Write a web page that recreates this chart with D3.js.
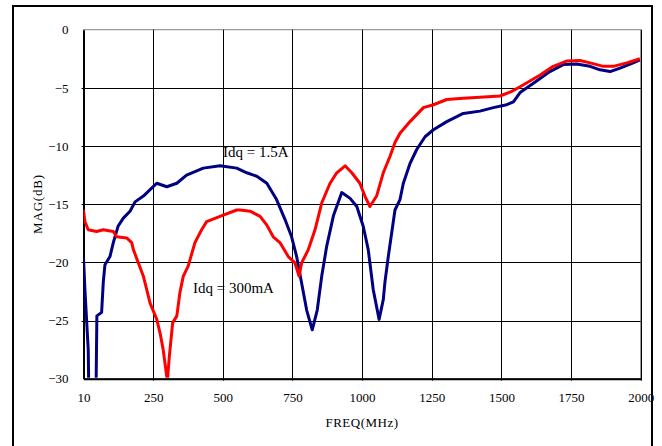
<!DOCTYPE html>
<html>
<head>
<meta charset="utf-8">
<script src="https://cdn.jsdelivr.net/npm/d3@7"></script>
<style>
  html, body { margin: 0; padding: 0; background: #fff; }
  svg { display: block; }
  text { font-family: "Liberation Serif", "Times New Roman", serif; fill: #000; }
</style>
</head>
<body>
<svg id="chart" width="662" height="446"></svg>
<script>
// ---- data ----
const xTickValues = [0, 250, 500, 750, 1000, 1250, 1500, 1750, 2000];
const xTickLabels = ["10", "250", "500", "750", "1000", "1250", "1500", "1750", "2000"];
const yTickValues = [0, -5, -10, -15, -20, -25, -30];

// Idq = 1.5A (blue)
const freqA = [0, 5, 17, 19, 45, 48, 65, 71, 77, 95, 107, 124, 143, 167, 185, 215, 239, 263, 299, 335, 370, 430, 490, 550, 586, 622, 658, 693, 723, 747, 765, 783, 801, 821, 839, 855, 873, 897, 927, 957, 981, 1004, 1022, 1040, 1061, 1076, 1082, 1094, 1106, 1118, 1136, 1148, 1172, 1196, 1226, 1256, 1304, 1363, 1423, 1471, 1519, 1543, 1567, 1615, 1674, 1722, 1770, 1818, 1854, 1890, 1926, 1973, 1997];
const magA  = [-19.6, -22.3, -27.5, -31, -31, -24.6, -24.3, -21.7, -20.2, -19.5, -18.3, -16.9, -16.2, -15.6, -14.8, -14.3, -13.75, -13.2, -13.5, -13.2, -12.5, -11.9, -11.7, -11.9, -12.3, -12.6, -13.2, -14.6, -16.3, -17.8, -19.5, -21.8, -24.1, -25.8, -24.1, -21.2, -18.6, -16.0, -14.0, -14.5, -15.2, -16.9, -18.9, -22.35, -24.9, -23.2, -21.7, -19.5, -17.5, -15.5, -14.6, -13.2, -11.5, -10.3, -9.2, -8.6, -7.9, -7.2, -7.0, -6.7, -6.45, -6.2, -5.4, -4.6, -3.6, -3.0, -2.95, -3.15, -3.45, -3.6, -3.3, -2.85, -2.6];

// Idq = 300mA (red)
const freqB = [0, 5, 17, 47, 71, 107, 119, 155, 173, 179, 197, 215, 227, 239, 263, 275, 286, 301, 308, 320, 335, 346, 358, 376, 400, 424, 442, 490, 550, 562, 598, 634, 658, 681, 705, 735, 759, 774, 783, 807, 831, 855, 885, 909, 939, 963, 992, 1010, 1028, 1052, 1076, 1100, 1118, 1136, 1172, 1220, 1256, 1304, 1363, 1423, 1495, 1537, 1567, 1639, 1686, 1734, 1782, 1818, 1866, 1902, 1950, 1997];
const magB  = [-15.5, -16.5, -17.2, -17.35, -17.2, -17.35, -17.8, -17.9, -18.3, -18.9, -20.05, -21.2, -22.35, -23.5, -24.9, -26.1, -27.5, -30.2, -28.1, -25.2, -24.6, -22.6, -21.2, -20.3, -18.3, -17.2, -16.5, -16.05, -15.5, -15.5, -15.6, -16.05, -16.8, -17.8, -18.3, -19.5, -20.05, -21.2, -20.05, -18.9, -17.2, -14.9, -13.2, -12.3, -11.7, -12.3, -13.2, -14.3, -15.2, -14.3, -12.3, -10.9, -9.7, -8.9, -7.9, -6.7, -6.45, -6.0, -5.9, -5.8, -5.7, -5.3, -4.9, -3.9, -3.15, -2.7, -2.65, -2.85, -3.15, -3.15, -2.85, -2.5];

const seriesNames = ["Idq = 1.5A", "Idq = 300mA"];
const seriesColors = ["#000080", "#ff0000"];

// ---- layout ----
const svg = d3.select("#chart");
const pLeft = 83.5, pRight = 640.7, pTop = 29.7, pBottom = 378.7;

const x = d3.scaleLinear().domain([0, 2000]).range([pLeft, pRight]);
const y = d3.scaleLinear().domain([-30, 0]).range([pBottom, pTop]);

// outer frame
svg.append("rect")
  .attr("x", 13).attr("y", 6).attr("width", 639).attr("height", 460)
  .attr("fill", "#fff").attr("stroke", "#000").attr("stroke-width", 2);

// plot area border
svg.append("rect")
  .attr("x", pLeft).attr("y", pTop).attr("width", pRight - pLeft).attr("height", pBottom - pTop)
  .attr("fill", "#fff").attr("stroke", "#808080").attr("stroke-width", 1);

// grid lines
const grid = svg.append("g");
grid.selectAll(".vg").data(xTickValues.slice(1)).enter().append("line")
  .attr("x1", d => Math.round(x(d)) + 0.5).attr("x2", d => Math.round(x(d)) + 0.5)
  .attr("y1", pTop).attr("y2", pBottom + 2)
  .attr("stroke", "#000").attr("stroke-width", 1);
grid.selectAll(".hg").data(yTickValues.slice(1, -1)).enter().append("line")
  .attr("x1", pLeft - 2).attr("x2", pRight)
  .attr("y1", d => Math.round(y(d)) + 0.5).attr("y2", d => Math.round(y(d)) + 0.5)
  .attr("stroke", "#000").attr("stroke-width", 1);

// axes via d3
const xAxis = d3.axisBottom(x).tickValues(xTickValues)
  .tickFormat((d, i) => xTickLabels[i]).tickSize(0).tickPadding(14);
const gx = svg.append("g").attr("transform", `translate(0,${pBottom})`).call(xAxis);
gx.select(".domain").attr("stroke", "#000").attr("stroke-width", 2);
gx.selectAll("text").style("font-size", "13px").style("font-family", "Liberation Serif");

const yAxis = d3.axisLeft(y).tickValues(yTickValues).tickSize(0).tickPadding(15);
const gy = svg.append("g").attr("transform", `translate(${pLeft},0)`).call(yAxis);
gy.select(".domain").attr("stroke", "#000").attr("stroke-width", 2);
gy.selectAll("text").style("font-size", "13px").style("font-family", "Liberation Serif");

// clip for curves
svg.append("clipPath").attr("id", "plotclip").append("rect")
  .attr("x", pLeft).attr("y", pTop - 2).attr("width", pRight - pLeft + 2).attr("height", pBottom - pTop + 1);

const lineGen = d3.line().x(d => x(d[0])).y(d => y(d[1]));

const series = [
  freqA.map((f, i) => [f, magA[i]]),
  freqB.map((f, i) => [f, magB[i]])
];
const curves = svg.append("g").attr("clip-path", "url(#plotclip)");
series.forEach((s, i) => {
  curves.append("path").datum(s)
    .attr("d", lineGen)
    .attr("fill", "none")
    .attr("stroke", seriesColors[i])
    .attr("stroke-width", 3)
    .attr("stroke-linejoin", "round");
});

// annotations
svg.append("text").attr("x", 223).attr("y", 157).style("font-size", "15px").text(seriesNames[0]);
svg.append("text").attr("x", 193).attr("y", 293).style("font-size", "15px").text(seriesNames[1]);

// axis titles
svg.append("text").attr("x", 362).attr("y", 427).attr("text-anchor", "middle")
  .style("font-size", "13px").style("letter-spacing", "0.5px").text("FREQ(MHz)");
svg.append("text").attr("transform", "translate(42,204) rotate(-90)").attr("text-anchor", "middle")
  .style("font-size", "13px").style("letter-spacing", "0.8px").text("MAG(dB)");
</script>
</body>
</html>
